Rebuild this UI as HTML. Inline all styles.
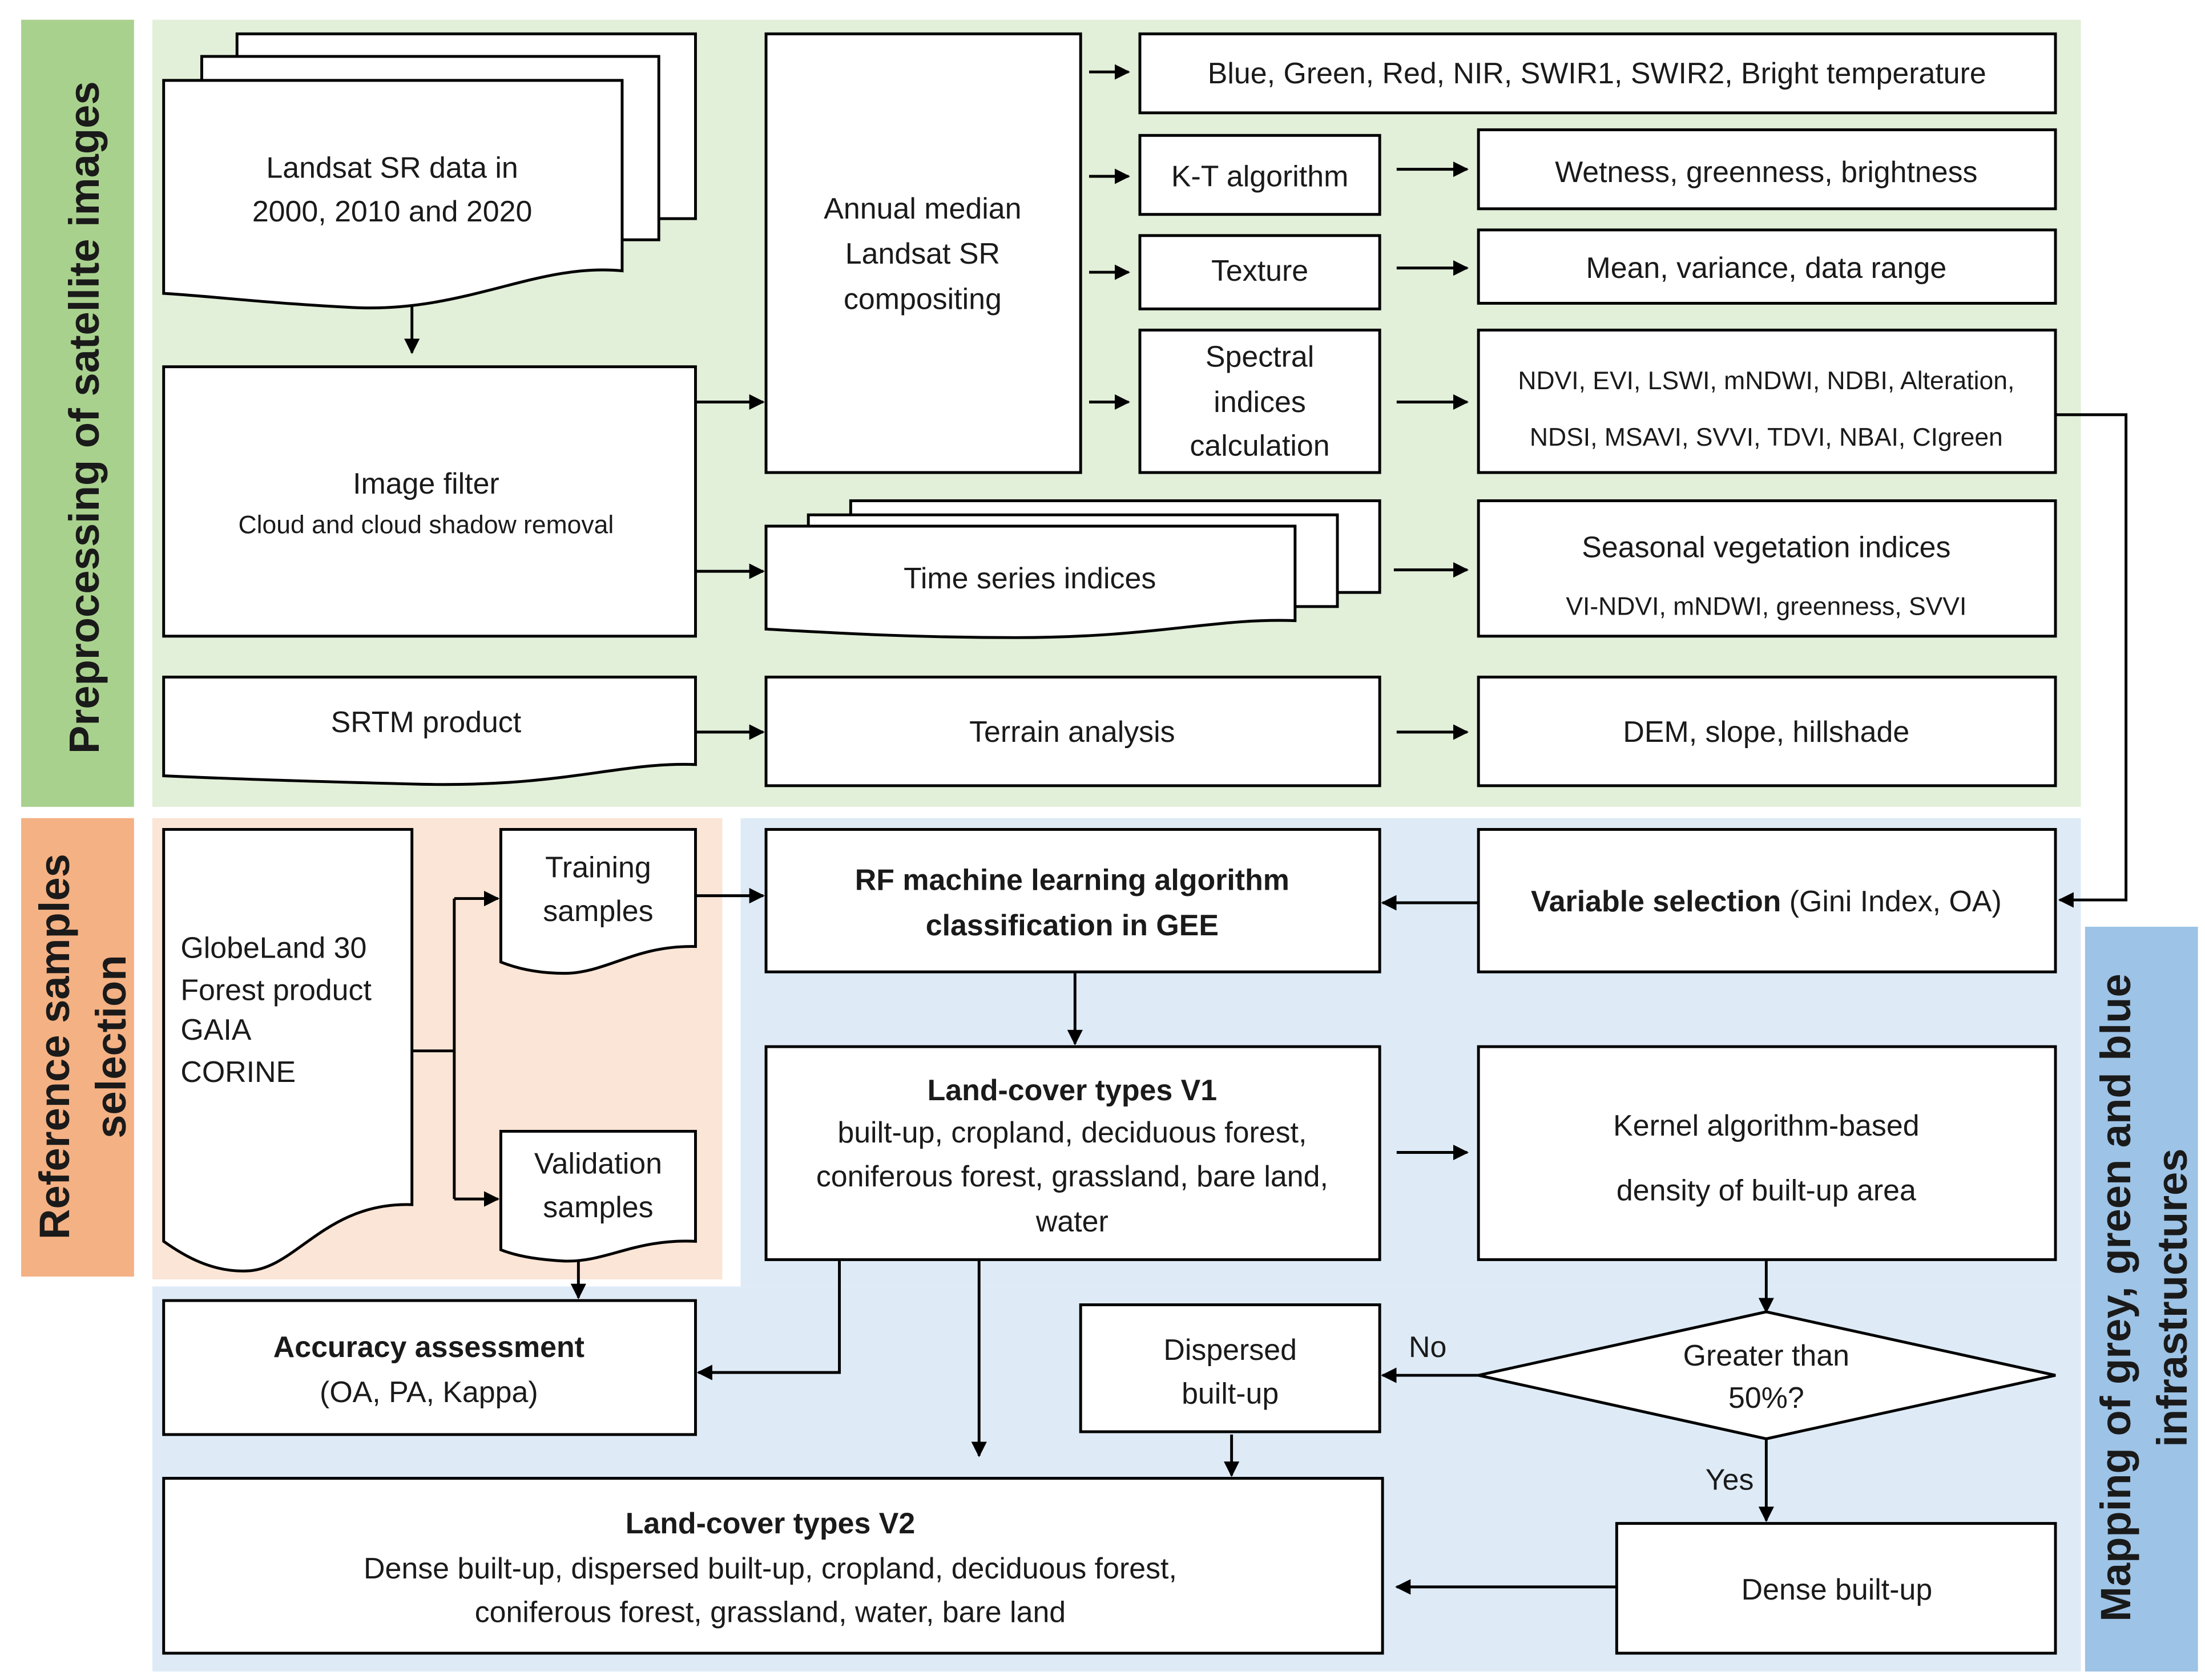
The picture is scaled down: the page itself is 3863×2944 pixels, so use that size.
<!DOCTYPE html>
<html><head><meta charset="utf-8"><style>
html,body{margin:0;padding:0;background:#fff;}
svg{display:block;}
text{font-family:"Liberation Sans",sans-serif;fill:#1a1a1a;}
</style></head><body>
<svg width="3863" height="2944" viewBox="0 0 1563 1191" preserveAspectRatio="none" xmlns="http://www.w3.org/2000/svg">
<defs>
<marker id="a" viewBox="0 0 10 10" refX="9" refY="5" markerWidth="5.5" markerHeight="5.5" orient="auto" markerUnits="strokeWidth"><path d="M0,0 L10,5 L0,10 Z" fill="#000"/></marker>
</defs>
<rect width="1563" height="1191" fill="#fff"/>
<rect x="15" y="14" width="80" height="558" fill="#a9d18e"/>
<rect x="108" y="14" width="1367" height="558" fill="#e2efd9"/>
<rect x="15" y="580" width="80" height="325" fill="#f4b183"/>
<rect x="108" y="580" width="404" height="327" fill="#fbe5d6"/>
<rect x="525" y="580" width="950" height="332" fill="#deebf7"/>
<rect x="108" y="912" width="1367" height="273" fill="#deebf7"/>
<rect x="1478" y="657" width="80" height="528" fill="#9dc3e6"/>
<text x="0" y="0" transform="translate(70,296) rotate(-90)" text-anchor="middle" font-size="30" font-weight="bold">Preprocessing of satellite images</text>
<text x="0" y="0" transform="translate(49,742) rotate(-90)" text-anchor="middle" font-size="30" font-weight="bold">Reference samples</text>
<text x="0" y="0" transform="translate(89,742) rotate(-90)" text-anchor="middle" font-size="30" font-weight="bold">selection</text>
<text x="0" y="0" transform="translate(1510,920) rotate(-90)" text-anchor="middle" font-size="30" font-weight="bold">Mapping of grey, green and blue</text>
<text x="0" y="0" transform="translate(1550,920) rotate(-90)" text-anchor="middle" font-size="30" font-weight="bold">infrastructures</text>

<g fill="#fff" stroke="#000" stroke-width="2">
<rect x="168" y="24" width="325" height="131"/>
<rect x="143" y="40" width="324" height="130"/>
<path d="M116,57 H441 V192 C380,186 330,222 250,218 C190,215 150,210 116,208 Z"/>
<rect x="116" y="260" width="377" height="191"/>
<rect x="543" y="24" width="223" height="311"/>
<rect x="808" y="24" width="649" height="56"/>
<rect x="808" y="96" width="170" height="56"/>
<rect x="1048" y="92" width="409" height="56"/>
<rect x="808" y="167" width="170" height="52"/>
<rect x="1048" y="163" width="409" height="52"/>
<rect x="808" y="234" width="170" height="101"/>
<rect x="1048" y="234" width="409" height="101"/>
<rect x="603" y="355" width="375" height="65"/>
<rect x="573" y="365" width="375" height="65"/>
<path d="M543,373 H918 V440 C860,438 820,452 720,452 C640,452 580,448 543,446 Z"/>
<rect x="1048" y="355" width="409" height="96"/>
<path d="M116,480 H493 V542 C440,540 400,558 300,556 C220,554 160,552 116,550 Z"/>
<rect x="543" y="480" width="435" height="77"/>
<rect x="1048" y="480" width="409" height="77"/>
<path d="M116,588 H292 V854 C230,852 210,900 175,901 C150,902 130,890 116,880 Z"/>
<path d="M355,588 H493 V671 C450,670 430,690 400,690 C380,690 365,686 355,682 Z"/>
<path d="M355,802 H493 V880 C450,878 430,895 400,894 C380,893 365,890 355,886 Z"/>
<rect x="543" y="588" width="435" height="101"/>
<rect x="1048" y="588" width="409" height="101"/>
<rect x="543" y="742" width="435" height="151"/>
<rect x="1048" y="742" width="409" height="151"/>
<path d="M1048,975 L1252,930 L1457,975 L1252,1020 Z"/>
<rect x="766" y="925" width="212" height="90"/>
<rect x="1146" y="1080" width="311" height="92"/>
<rect x="116" y="922" width="377" height="95"/>
<rect x="116" y="1048" width="864" height="124"/>
</g>

<g stroke="#000" stroke-width="2" fill="none" marker-end="url(#a)">
<path d="M292,217 V250"/>
<path d="M493,285 H541"/>
<path d="M493,405 H541"/>
<path d="M493,519 H541"/>
<path d="M772,51 H800"/>
<path d="M772,125 H800"/>
<path d="M772,193 H800"/>
<path d="M772,285 H800"/>
<path d="M990,120 H1040"/>
<path d="M990,190 H1040"/>
<path d="M990,285 H1040"/>
<path d="M988,404 H1040"/>
<path d="M990,519 H1040"/>
<path d="M1458,294 H1507 V638 H1460"/>
<path d="M322,637 H353"/>
<path d="M322,850 H353"/>
<path d="M493,635 H541"/>
<path d="M1048,640 H980"/>
<path d="M762,690 V740"/>
<path d="M990,817 H1040"/>
<path d="M1252,893 V930"/>
<path d="M1048,975 H980"/>
<path d="M1252,1020 V1078"/>
<path d="M1146,1125 H990"/>
<path d="M410,893 V920"/>
<path d="M595,893 V973 H495"/>
<path d="M694,893 V1032"/>
<path d="M873,1017 V1046"/>
</g>
<path d="M292,745 H322 M322,637 V850" stroke="#000" stroke-width="2" fill="none"/>

<g font-size="21" text-anchor="middle">
<text x="278" y="126">Landsat SR data in</text>
<text x="278" y="157">2000, 2010 and 2020</text>
<text x="302" y="350">Image filter</text>
<text x="302" y="378" font-size="18">Cloud and cloud shadow removal</text>
<text x="654" y="155">Annual median</text>
<text x="654" y="187">Landsat SR</text>
<text x="654" y="219">compositing</text>
<text x="1132" y="59">Blue, Green, Red, NIR, SWIR1, SWIR2, Bright temperature</text>
<text x="893" y="132">K-T algorithm</text>
<text x="1252" y="129">Wetness, greenness, brightness</text>
<text x="893" y="199">Texture</text>
<text x="1252" y="197">Mean, variance, data range</text>
<text x="893" y="260">Spectral</text>
<text x="893" y="292">indices</text>
<text x="893" y="323">calculation</text>
<text x="1252" y="276" font-size="18">NDVI, EVI, LSWI, mNDWI, NDBI, Alteration,</text>
<text x="1252" y="316" font-size="18">NDSI, MSAVI, SVVI, TDVI, NBAI, CIgreen</text>
<text x="730" y="417">Time series indices</text>
<text x="1252" y="395">Seasonal vegetation indices</text>
<text x="1252" y="436" font-size="18">VI-NDVI, mNDWI, greenness, SVVI</text>
<text x="302" y="519">SRTM product</text>
<text x="760" y="526">Terrain analysis</text>
<text x="1252" y="526">DEM, slope, hillshade</text>
<text x="128" y="679" text-anchor="start">GlobeLand 30</text>
<text x="128" y="709" text-anchor="start">Forest product</text>
<text x="128" y="737" text-anchor="start">GAIA</text>
<text x="128" y="767" text-anchor="start">CORINE</text>
<text x="424" y="622">Training</text>
<text x="424" y="653">samples</text>
<text x="424" y="832">Validation</text>
<text x="424" y="863">samples</text>
<text x="760" y="631" font-weight="bold">RF machine learning algorithm</text>
<text x="760" y="663" font-weight="bold">classification in GEE</text>
<text x="1252" y="646"><tspan font-weight="bold">Variable selection</tspan> (Gini Index, OA)</text>
<text x="760" y="780" font-weight="bold">Land-cover types V1</text>
<text x="760" y="810">built-up, cropland, deciduous forest,</text>
<text x="760" y="841">coniferous forest, grassland, bare land,</text>
<text x="760" y="873">water</text>
<text x="1252" y="805">Kernel algorithm-based</text>
<text x="1252" y="851">density of built-up area</text>
<text x="1252" y="968">Greater than</text>
<text x="1252" y="998">50%?</text>
<text x="1012" y="962">No</text>
<text x="1226" y="1056">Yes</text>
<text x="872" y="964">Dispersed</text>
<text x="872" y="995">built-up</text>
<text x="1302" y="1134">Dense built-up</text>
<text x="304" y="962" font-weight="bold">Accuracy assessment</text>
<text x="304" y="994">(OA, PA, Kappa)</text>
<text x="546" y="1087" font-weight="bold">Land-cover types V2</text>
<text x="546" y="1119">Dense built-up, dispersed built-up, cropland, deciduous forest,</text>
<text x="546" y="1150">coniferous forest, grassland, water, bare land</text>
</g>
</svg>
</body></html>
